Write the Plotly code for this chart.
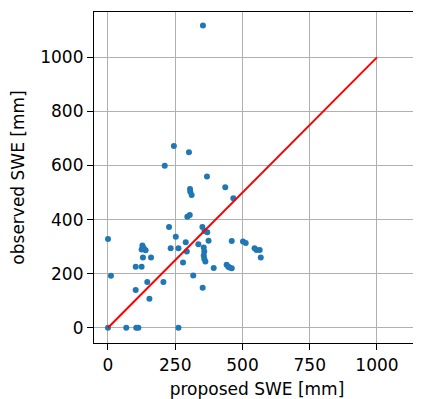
import plotly.graph_objects as go

# proposed SWE [mm] (x) vs observed SWE [mm] (y)
proposed = [0, 0, 11, 68, 105, 113, 262, 103, 146, 154, 206, 103, 125, 128, 133, 140, 125,
            130, 160, 227, 252, 233, 262, 289, 293, 279, 295, 304, 305, 306, 311, 317, 336,
            351, 359, 369, 374, 356, 358, 356, 358, 362, 352, 368, 353, 245, 301, 211, 393,
            436, 466, 460, 441, 447, 452, 460, 502, 512, 545, 552, 564, 568]
observed = [0, 328, 192, 0, 0, 0, 0, 140, 169, 107, 169, 226, 226, 304, 294, 287, 289,
            260, 260, 373, 337, 294, 294, 316, 282, 241, 411, 417, 513, 503, 491, 193, 309,
            373, 358, 353, 322, 297, 282, 267, 255, 245, 148, 559, 1118, 672, 649, 599, 221,
            520, 479, 321, 233, 226, 223, 220, 319, 313, 294, 288, 288, 260]

line_x = [0, 1000]
line_y = [0, 1000]

x_ticks = [0, 250, 500, 750, 1000]
y_ticks = [0, 200, 400, 600, 800, 1000]

fig = go.Figure()
fig.add_trace(go.Scatter(x=proposed, y=observed, mode="markers",
                         marker=dict(color="#1f77b4", size=6, line=dict(width=0)),
                         showlegend=False))
fig.add_trace(go.Scatter(x=line_x, y=line_y, mode="lines",
                         line=dict(color="#ff0000", width=2),
                         showlegend=False))

font = dict(family="DejaVu Sans", size=17, color="#000000")
axis_common = dict(showgrid=True, gridcolor="#b0b0b0", gridwidth=1.2,
                   zeroline=False, showline=True, linecolor="#000000", linewidth=1.2,
                   mirror=True, ticks="outside", ticklen=6, tickwidth=1.2,
                   tickcolor="#000000", tickfont=font)

# page body has an 8px default margin, so the figure is sized to fit the window
fig.update_layout(
    width=413, height=391,
    margin=dict(l=86, r=1, t=4, b=56),
    paper_bgcolor="white", plot_bgcolor="white",
    font=font,
    xaxis=dict(range=[-52, 1160], tickvals=x_ticks,
               title=dict(text="proposed SWE [mm]", font=font, standoff=10),
               **axis_common),
    yaxis=dict(range=[-56.5, 1168], tickvals=y_ticks,
               title=dict(text="observed SWE [mm]", font=font, standoff=12),
               **axis_common),
)

fig.write_html("out.html")
